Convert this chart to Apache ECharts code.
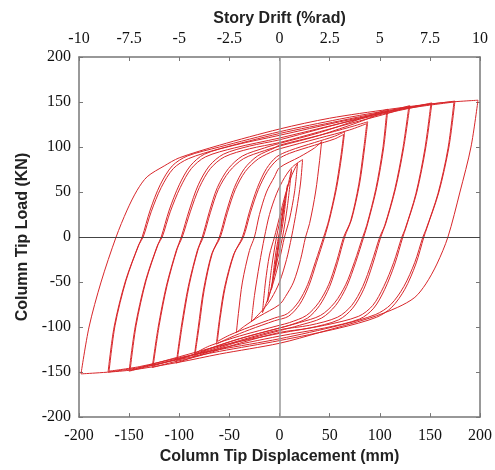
<!DOCTYPE html>
<html><head><meta charset="utf-8">
<script src="https://cdn.jsdelivr.net/npm/echarts@6/dist/echarts.min.js"></script>
<style>html,body{margin:0;padding:0;background:#fff}#c{width:495px;height:470px}</style>
</head><body><div id="c"></div>
<script>
// Axis ticks
const dispTicks = [-200,-150,-100,-50,0,50,100,150,200];
const driftTicks = [-10,-7.5,-5,-2.5,0,2.5,5,7.5,10];
const loadTicks = [-200,-150,-100,-50,0,50,100,150,200];

// Hysteresis loops: [displacement (mm), load (kN)]
const loop01 = [[5,38],[1,5],[-5,-40],[-1,-5],[5,38]];
const loop02 = [[8,58],[4,20],[1,0],[-4,-30],[-8,-58],[-4,-20],[-1,0],[4,30],[8,58]];
const loop03 = [[12,75],[8,35],[3,0],[-3,-30],[-8,-55],[-12,-72],[-8,-35],[-3,0],[3,30],[8,55],[12,75]];
const loop04 = [[18,82],[15,50],[10,20],[5,0],[0,-25],[-6,-50],[-12,-70],[-17,-84],[-14,-50],[-10,-20],[-5,0],[0,22],[6,48],[12,68],[18,82]];
const loop05 = [[23,86],[21,60],[17,30],[12,0],[7,-25],[0,-50],[-8,-68],[-16,-80],[-28,-94],[-25,-65],[-20,-30],[-15,0],[-10,25],[-3,48],[5,66],[13,78],[23,86]];
const loop06 = [[42,106],[40,85],[36,50],[30,15],[26,0],[21,-25],[14,-50],[6,-66],[0,-75],[-20,-88],[-35,-99],[-43,-106],[-41,-85],[-37,-50],[-30,-15],[-25,0],[-20,25],[-13,50],[-5,67],[0,77],[20,89],[35,99],[42,106]];
const loop07 = [[65,117],[62,90],[57,55],[50,20],[45,0],[37,-28],[29,-55],[20,-75],[9,-88],[-5,-93],[-30,-103],[-50,-112],[-63,-119],[-60,-92],[-55,-57],[-46,-20],[-37,0],[-30,28],[-22,55],[-13,76],[-3,89],[10,96],[35,105],[55,112],[65,117]];
const loop07b = [[64,114],[61,88],[56,53],[49,18],[44,0],[36,-27],[28,-53],[19,-72],[8,-85],[-5,-90],[-30,-100],[-50,-109],[-62,-116],[-59,-89],[-54,-55],[-45,-18],[-36,0],[-29,27],[-21,53],[-12,73],[-2,86],[10,93],[35,102],[55,109],[64,114]];
const loop08 = [[88,128],[85,100],[80,60],[72,20],[65,0],[58,-28],[50,-55],[40,-76],[28,-90],[10,-98],[0,-101],[-40,-113],[-70,-124],[-85,-132],[-81,-100],[-76,-60],[-68,-20],[-60,0],[-53,28],[-45,55],[-35,76],[-22,90],[-5,99],[0,102],[40,113],[70,122],[88,128]];
const loop08b = [[87,126],[84,98],[79,58],[71,18],[64,0],[57,-27],[49,-53],[39,-73],[27,-87],[10,-95],[0,-98],[-40,-110],[-70,-121],[-84,-129],[-80,-98],[-75,-58],[-67,-18],[-59,0],[-52,27],[-44,53],[-34,73],[-21,87],[-5,96],[0,98],[40,110],[70,119],[87,126]];
const loop09 = [[108,142],[104,100],[97,55],[88,15],[84,0],[76,-28],[67,-55],[56,-76],[42,-90],[20,-98],[0,-104],[-40,-116],[-80,-131],[-103,-140],[-98,-100],[-91,-55],[-82,-15],[-77,0],[-70,28],[-62,55],[-51,76],[-37,90],[-15,99],[0,104],[40,116],[80,131],[108,142]];
const loop09b = [[107,140],[103,98],[96,53],[87,13],[83,0],[75,-27],[66,-53],[55,-73],[41,-87],[20,-95],[0,-101],[-40,-113],[-80,-128],[-102,-137],[-97,-98],[-90,-53],[-81,-13],[-76,0],[-69,27],[-61,53],[-50,73],[-36,87],[-15,96],[0,101],[40,113],[80,128],[107,140]];
const loop10 = [[130,146],[124,100],[116,55],[106,15],[101,0],[93,-30],[84,-58],[73,-79],[59,-92],[30,-101],[0,-106],[-40,-118],[-80,-132],[-110,-140],[-127,-145],[-121,-100],[-113,-55],[-103,-15],[-98,0],[-90,30],[-81,58],[-70,79],[-56,92],[-30,101],[0,108],[40,120],[80,132],[110,140],[130,146]];
const loop10b = [[129,145],[123,98],[115,53],[105,13],[100,0],[92,-28],[83,-55],[72,-76],[58,-89],[30,-98],[0,-103],[-40,-115],[-80,-129],[-110,-138],[-126,-143],[-120,-98],[-112,-53],[-102,-13],[-97,0],[-89,28],[-80,55],[-69,76],[-55,89],[-30,98],[0,105],[40,117],[80,129],[110,138],[129,145]];
const loop11 = [[152,149],[146,100],[137,50],[126,10],[123,0],[115,-30],[105,-58],[94,-79],[80,-91],[45,-101],[0,-110],[-60,-124],[-100,-135],[-150,-149],[-144,-100],[-134,-50],[-122,-10],[-118,0],[-110,30],[-100,58],[-89,79],[-75,92],[-45,102],[0,113],[60,128],[100,137],[152,149]];
const loop11b = [[151,148],[145,98],[136,48],[125,8],[122,0],[114,-28],[104,-55],[93,-76],[79,-88],[45,-98],[0,-107],[-60,-121],[-100,-133],[-149,-148],[-143,-98],[-133,-48],[-121,-8],[-117,0],[-109,28],[-99,55],[-88,76],[-74,89],[-45,99],[0,110],[60,126],[100,136],[151,148]];
const loop12 = [[175,151],[169,100],[159,50],[147,10],[144,0],[136,-30],[125,-58],[112,-78],[97,-89],[60,-101],[0,-115],[-60,-127],[-100,-136],[-140,-145],[-171,-150],[-165,-100],[-154,-50],[-141,-10],[-137,0],[-129,30],[-119,58],[-107,79],[-92,90],[-60,100],[0,117],[60,131],[100,139],[140,146],[175,151]];
const loop12b = [[174,150],[168,98],[158,48],[146,8],[143,0],[135,-28],[124,-55],[111,-75],[96,-86],[60,-98],[0,-113],[-60,-125],[-100,-134],[-140,-144],[-170,-149],[-164,-98],[-153,-48],[-140,-8],[-136,0],[-128,28],[-118,55],[-106,76],[-91,87],[-60,98],[0,115],[60,129],[100,138],[140,145],[174,150]];
const loop13 = [[198,152],[191,100],[180,50],[168,0],[157,-30],[146,-52],[135,-67],[118,-78],[90,-90],[40,-106],[0,-118],[-60,-130],[-100,-139],[-150,-148],[-198,-152],[-190,-100],[-178,-50],[-163,0],[-152,30],[-142,52],[-132,67],[-115,79],[-100,88],[-60,102],[0,120],[50,132],[110,142],[160,149],[198,152]];

const loops = [loop01,loop02,loop03,loop04,loop05,loop06,loop07,loop07b,loop08,loop08b,loop09,loop09b,loop10,loop10b,loop11,loop11b,loop12,loop12b,loop13];

const chart = echarts.init(document.getElementById('c'), null, {renderer:'canvas'});
const serif = 'Liberation Serif';
const sans = 'Liberation Sans';
const axisCol = '#777';
const series = loops.map(d => ({
  type:'line', data:d, showSymbol:false, smooth:0.3, silent:true,
  lineStyle:{color:'#d8262a', width:1}, xAxisIndex:0, yAxisIndex:0
}));
series.push({
  type:'line', data:[], xAxisIndex:0, yAxisIndex:0, silent:true,
  markLine:{symbol:'none', silent:true, label:{show:false}, animation:false,
    data:[{xAxis:0, lineStyle:{color:'#999', width:1.5, type:'solid'}},
          {yAxis:0, lineStyle:{color:'#444', width:1.2, type:'solid'}}]}
});
const titleStyle = {fontFamily:sans, fontWeight:'bold', fontSize:16, color:'#222'};
const labelStyle = {fontFamily:serif, fontSize:16, color:'#111'};
const tickStyle = {show:true, inside:true, length:4, lineStyle:{color:axisCol}};
const lineStyle = {show:true, onZero:false, lineStyle:{color:axisCol, width:1.5}};
chart.setOption({
  animation:false,
  grid:{left:79, right:15, top:57, bottom:52},
  xAxis:[{
    type:'value', position:'bottom', min:-200, max:200, interval:50,
    name:'Column Tip Displacement (mm)', nameLocation:'middle', nameGap:30,
    nameTextStyle:titleStyle, axisLine:lineStyle, axisTick:tickStyle,
    axisLabel:Object.assign({margin:11}, labelStyle), splitLine:{show:false}
  },{
    type:'value', position:'top', min:-10, max:10, interval:2.5,
    name:'Story Drift (%rad)', nameLocation:'middle', nameGap:29,
    nameTextStyle:titleStyle, axisLine:lineStyle, axisTick:tickStyle,
    axisLabel:Object.assign({margin:10}, labelStyle), splitLine:{show:false}
  }],
  yAxis:[{
    type:'value', position:'left', min:-200, max:200, interval:50,
    name:'Column Tip Load (KN)', nameLocation:'middle', nameGap:46,
    nameTextStyle:titleStyle, axisLine:lineStyle, axisTick:tickStyle,
    axisLabel:Object.assign({margin:8}, labelStyle), splitLine:{show:false}
  },{
    type:'value', position:'right', min:-200, max:200, interval:50,
    axisLine:lineStyle, axisTick:tickStyle,
    axisLabel:{show:false}, splitLine:{show:false}
  }],
  series:series
});
</script></body></html>
